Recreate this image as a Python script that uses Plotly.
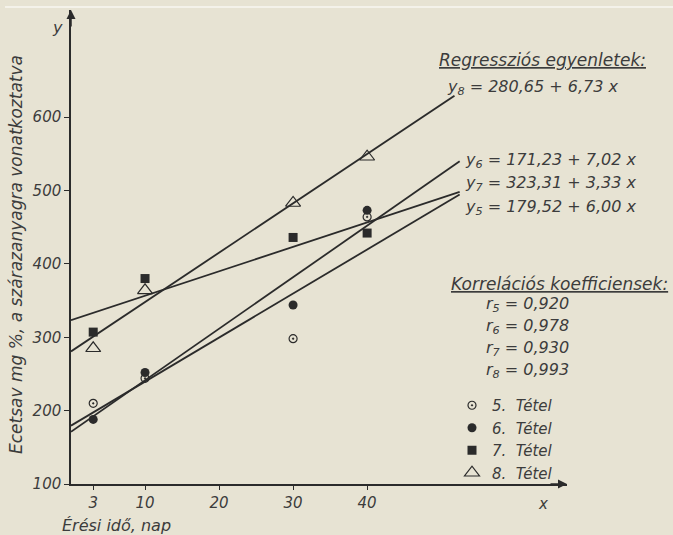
import plotly.graph_objects as go

# ---- data ----
days = [3, 10, 30, 40]
tetel5 = [210, 244, 298, 464]
tetel6 = [188, 252, 344, 473]
tetel7 = [307, 380, 436, 442]
tetel8 = [285, 364, 483, 546]

# regression lines: intercepts, slopes, end of drawn line (days)
reg_names = ["5", "6", "7", "8"]
reg_intercept = [179.52, 171.23, 323.31, 280.65]
reg_slope = [6.00, 7.02, 3.33, 6.73]
reg_xend = [52.5, 52.5, 52.5, 51.8]

x_ticks = [3, 10, 20, 30, 40]
y_ticks = [100, 200, 300, 400, 500, 600]

INK = "#2b2b2b"
TXT = "#3c3c3c"
FONT = "DejaVu Sans"
BG = "#e7e3d3"

fig = go.Figure()

for a, b, xe in zip(reg_intercept, reg_slope, reg_xend):
    xs = [0, xe]
    fig.add_trace(go.Scatter(
        x=xs, y=[a + b * v for v in xs], mode="lines",
        line=dict(color=INK, width=1.8), showlegend=False, hoverinfo="skip"))

fig.add_trace(go.Scatter(x=days, y=tetel5, mode="markers", name="5.  Tétel",
    marker=dict(symbol="circle-open-dot", size=8, color=INK, line=dict(width=1.2, color=INK))))
fig.add_trace(go.Scatter(x=days, y=tetel6, mode="markers", name="6.  Tétel",
    marker=dict(symbol="circle", size=9, color=INK)))
fig.add_trace(go.Scatter(x=days, y=tetel7, mode="markers", name="7.  Tétel",
    marker=dict(symbol="square", size=9, color=INK)))
fig.add_trace(go.Scatter(x=days, y=tetel8, mode="markers", name="8.  Tétel",
    marker=dict(symbol="triangle-up-open", size=13, color=INK, line=dict(width=1.2, color=INK))))

L, R, T, B = 71, 106, 10, 51
W, H = 673, 535
pw, ph = W - L - R, H - T - B

def px(x):
    return (x - L) / pw

def py(y):
    return (H - B - y) / ph

tf = dict(family=FONT, size=15, color=TXT, style="italic")

fig.update_layout(
    width=W, height=H,
    margin=dict(l=L, r=R, t=T, b=B),
    paper_bgcolor=BG, plot_bgcolor=BG,
    xaxis=dict(range=[0, 67], tickvals=x_ticks, ticktext=[str(v) for v in x_ticks],
               showgrid=False, zeroline=False, showline=True, linecolor=INK, linewidth=1.5,
               ticks="outside", ticklen=4, tickcolor=INK, tickfont=tf),
    yaxis=dict(range=[100, 746], tickvals=y_ticks, ticktext=[str(v) for v in y_ticks],
               showgrid=False, zeroline=False, showline=True, linecolor=INK, linewidth=1.5,
               ticks="outside", ticklen=5, tickcolor=INK, tickfont=tf),
    showlegend=True,
    legend=dict(x=px(452), y=py(389), xanchor="left", yanchor="top",
                bgcolor="rgba(0,0,0,0)", font=dict(family=FONT, size=15, color=TXT, style="italic"),
                itemwidth=30, tracegroupgap=0),
)

def ann(text, x, y, size=16, xanchor="left", **kw):
    fig.add_annotation(text=text, xref="paper", yref="paper", x=px(x), y=py(y),
                       xanchor=xanchor, yanchor="middle", showarrow=False,
                       font=dict(family=FONT, size=size, color=TXT, style="italic"), **kw)

ann("<u>Regressziós egyenletek:</u>", 437, 60, size=17)
ann("y<sub>8</sub> = 280,65 + 6,73 x", 445, 87, size=16)
ann("y<sub>6</sub> = 171,23 + 7,02 x", 463, 160, size=16)
ann("y<sub>7</sub> = 323,31 + 3,33 x", 463, 184, size=16)
ann("y<sub>5</sub> = 179,52 + 6,00 x", 463, 207, size=16)
ann("<u>Korrelációs koefficiensek:</u>", 449, 284, size=17)
ann("r<sub>5</sub> = 0,920", 484, 304, size=16)
ann("r<sub>6</sub> = 0,978", 484, 326, size=16)
ann("r<sub>7</sub> = 0,930", 484, 348, size=16)
ann("r<sub>8</sub> = 0,993", 484, 370, size=16)
ann("Ecetsav mg %, a szárazanyagra vonatkoztatva", 16, 255, size=17, xanchor="center", textangle=-90)
ann("Érési idő, nap", 60, 525, size=16)
ann("y", 57, 27, size=16, xanchor="center")
ann("x", 543, 504, size=15, xanchor="center")

# axis arrowheads
fig.add_annotation(x=0, y=746, xref="x", yref="y", ax=0, ay=18,
                   text="", showarrow=True, arrowhead=2, arrowsize=1.2, arrowwidth=1.5, arrowcolor=INK)
fig.add_annotation(x=67, y=100, xref="x", yref="y", ax=-18, ay=0,
                   text="", showarrow=True, arrowhead=2, arrowsize=1.2, arrowwidth=1.5, arrowcolor=INK)

# thin light line at top edge of scanned page
fig.add_shape(type="line", xref="paper", yref="paper", x0=px(5), x1=px(673), y0=py(7), y1=py(7),
              line=dict(color="#f4f2ea", width=2))

fig.write_html("out.html", config={"displayModeBar": False},
               post_script="document.body.style.margin='0';document.body.style.overflow='hidden';")
